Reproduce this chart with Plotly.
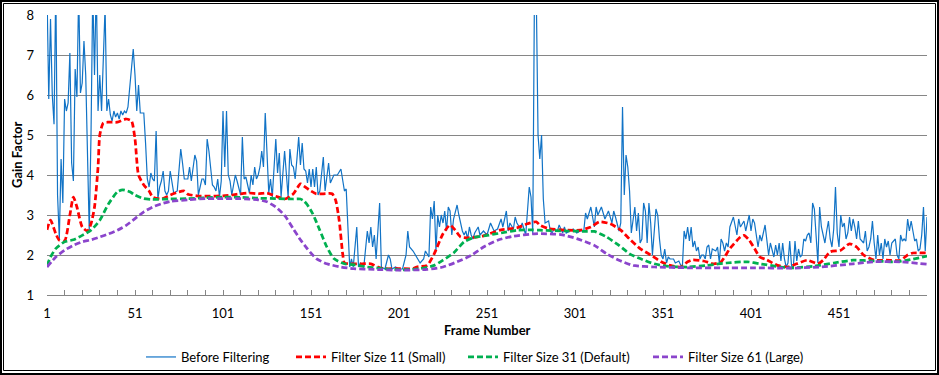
import plotly.graph_objects as go

# ---------------- data ----------------
blue_frames = [
    1,2,3,4,5,6,7,8,9,10,11,12,13,14,15,16,17,18,19,20,21,22,23,24,25,26,27,28,29,30,
    31,32,33,34,35,36,37,38,39,40,41,42,43,44,45,46,47,48,49,50,51,52,53,54,55,56,57,58,59,60,
    61,62,63,64,65,66,67,68,69,70,71,73,75,77,78,79,81,82,83,85,86,87,89,90,91,92,93,95,96,97,
    98,99,100,101,102,103,104,105,106,107,108,109,111,112,113,114,115,116,117,118,119,120,121,122,
    123,124,125,126,127,128,129,131,132,133,134,136,137,138,139,140,141,142,143,144,145,146,147,148,
    149,150,151,152,153,154,155,156,158,159,161,162,164,166,168,170,171,173,174,175,177,178,179,181,
    183,184,185,186,187,188,190,191,193,195,196,197,199,201,203,205,206,207,209,211,213,215,216,218,
    219,220,221,222,223,224,225,226,227,228,229,230,231,232,234,235,236,237,238,239,240,241,242,243,
    244,246,247,249,251,253,254,255,257,259,260,262,263,264,266,267,268,270,271,273,275,276,277,278,
    279,280,281,282,283,284,286,287,288,289,291,292,294,295,296,298,300,302,304,306,307,308,310,312,
    313,314,316,318,320,322,323,324,326,327,328,329,330,331,332,333,335,336,337,338,339,340,341,342,
    343,344,345,347,348,349,350,351,352,353,354,355,357,358,360,361,362,363,364,365,366,367,368,369,
    370,371,372,373,374,375,376,377,378,379,381,382,383,384,385,386,387,388,389,391,392,393,394,395,
    397,398,399,400,401,402,403,404,405,406,407,409,410,411,412,413,414,415,416,417,418,419,420,421,
    422,423,424,425,426,427,428,429,430,431,432,433,434,435,436,437,438,439,440,441,442,443,444,445,
    446,447,448,449,450,451,452,453,454,455,456,457,458,459,460,461,462,463,465,466,467,468,469,470,
    471,472,473,474,475,476,477,478,479,480,481,483,484,485,486,487,488,489,490,491,492,493,494,495,
    496,497,498,499,500,501,
]
blue_values = [
    8.6,5.9,7.9,6.0,5.27,8.8,3.5,2.4,4.4,3.3,5.9,5.6,5.8,7.05,4.3,3.85,6.65,5.95,8.6,6.05,6.3,7.35,6.5,4.3,2.6,5.0,8.6,6.5,8.8,5.6,
    6.5,5.6,6.9,8.2,5.6,5.9,5.5,5.35,5.6,5.45,5.55,5.4,5.6,5.5,5.6,5.55,5.7,6.2,6.6,7.15,6.5,5.6,6.25,5.55,5.55,5.55,4.8,3.9,3.7,4.05,
    3.9,3.85,5.1,3.4,3.7,3.85,4.1,3.6,3.5,3.6,4.1,3.55,3.6,4.65,4.3,3.9,3.9,4.2,3.85,4.5,4.35,3.5,3.9,3.9,3.75,4.9,4.6,3.75,3.7,3.6,
    3.9,3.45,3.85,5.6,4.2,5.6,4.0,3.85,3.5,3.8,4.0,3.85,3.5,4.95,3.9,3.95,3.7,3.55,4.0,3.75,4.2,3.9,4.0,4.2,
    4.6,4.2,5.55,4.4,3.55,3.9,3.45,4.9,4.05,4.55,3.45,4.6,4.0,3.45,4.65,4.25,4.2,3.9,4.4,4.95,4.25,4.8,4.15,4.1,
    3.8,4.15,3.7,4.15,3.7,4.2,3.5,3.6,4.45,3.6,4.3,3.8,4.0,4.0,4.15,3.6,3.65,1.7,1.9,1.7,2.7,1.7,1.8,1.7,
    2.6,2.3,2.7,2.2,2.5,1.9,3.3,1.7,1.65,2.0,1.9,1.65,1.7,1.65,1.65,2.0,2.6,2.2,2.1,1.95,1.8,1.9,2.1,1.95,
    3.2,2.9,3.35,2.1,3.0,2.7,3.0,2.8,3.1,2.6,3.2,3.1,2.5,2.9,3.25,3.0,2.8,2.6,2.5,2.6,2.4,2.7,2.5,2.4,
    2.55,2.7,2.5,2.6,2.5,2.8,2.7,2.6,2.65,2.9,2.7,3.1,2.6,2.8,2.65,2.95,2.8,2.65,2.8,2.5,3.7,3.45,2.55,8.8,
    8.5,5.0,4.4,5.0,3.4,2.8,2.85,2.6,2.55,2.65,2.6,2.75,2.55,2.7,2.55,2.6,2.65,2.55,2.6,2.6,3.05,2.9,3.2,2.7,
    3.2,3.0,3.2,2.9,3.1,2.8,3.1,2.95,2.6,2.8,5.7,3.5,4.5,4.2,3.6,2.55,3.2,2.6,3.05,2.3,2.4,3.3,3.1,2.3,
    3.3,2.8,2.0,3.15,3.0,2.4,2.0,1.9,2.15,1.8,1.95,1.9,1.9,1.8,1.85,1.75,1.7,2.6,2.4,2.7,2.35,2.7,2.2,2.35,
    2.1,2.2,1.9,2.0,2.0,1.9,2.2,2.25,1.9,2.15,2.1,2.2,1.8,2.4,2.3,2.1,2.3,2.2,2.7,2.95,2.7,2.5,2.9,2.7,
    2.85,2.6,2.8,3.0,2.6,2.9,2.8,2.55,2.2,2.5,2.35,2.75,2.3,2.0,2.3,2.1,1.95,2.25,2.0,2.3,1.85,2.3,1.9,1.7,
    1.8,2.35,1.75,1.65,2.35,1.85,2.15,1.95,2.0,2.4,2.35,2.5,2.55,2.3,3.3,3.15,2.4,1.8,3.2,2.7,2.5,2.3,2.6,2.85,
    2.4,2.2,2.65,3.7,2.55,2.2,3.0,2.7,2.8,2.4,2.55,2.95,2.6,2.9,2.7,2.4,2.85,2.4,2.3,2.6,2.1,2.2,2.4,2.85,
    2.3,1.9,2.5,2.0,2.3,1.9,2.4,2.2,2.35,2.0,2.3,2.4,2.0,1.9,2.5,2.35,2.4,2.35,2.9,2.6,2.85,2.55,2.35,2.4,
    2.1,2.15,2.5,3.2,2.1,2.95,
]

red_frames = [1,3,6,8,11,14,16,18,21,24,26,28,30,31,33,36,41,46,49,51,53,56,59,61,66,71,76,79,81,86,
              91,96,101,106,111,116,121,126,131,136,141,145,147,151,154,158,163,165,167,169,170,173,180,185,189,192,
              202,209,211,217,221,226,230,233,236,240,249,259,268,274,279,281,286,297,304,310,315,321,327,332,
              338,344,350,355,361,365,368,374,380,384,389,395,397,400,403,406,410,416,422,427,433,439,442,446,
              452,457,461,465,471,478,486,490,493,501]
red_values = [2.63,2.87,2.53,2.37,2.35,3.0,3.45,3.2,2.7,2.6,2.78,3.2,4.2,5.0,5.3,5.32,5.32,5.4,5.35,4.9,4.0,3.75,3.6,3.45,3.4,3.5,3.58,3.6,3.52,3.48,
              3.47,3.47,3.48,3.5,3.53,3.55,3.53,3.55,3.47,3.4,3.53,3.78,3.72,3.6,3.53,3.53,3.53,3.37,2.87,2.03,1.8,1.78,1.78,1.78,1.7,1.66,
              1.66,1.66,1.7,1.74,2.03,2.53,2.75,2.62,2.45,2.43,2.48,2.63,2.68,2.78,2.83,2.75,2.66,2.62,2.62,2.7,2.83,2.78,2.62,2.4,
              2.16,2.0,1.83,1.74,1.7,1.83,1.88,1.85,1.78,1.83,2.16,2.45,2.49,2.37,2.16,1.95,1.88,1.74,1.7,1.78,1.87,1.78,1.87,2.08,
              2.12,2.28,2.2,2.0,1.87,1.87,1.87,2.0,2.05,2.05]

green_frames = [1,3,6,11,16,21,26,31,36,41,44,48,51,56,61,71,81,91,101,111,121,131,141,145,147,149,152,156,160,164,
                170,175,183,192,202,213,221,226,232,238,243,251,259,268,276,281,297,308,312,319,326,332,338,346,
                353,365,376,387,399,406,418,425,437,448,459,471,482,490,501]
green_values = [1.74,1.95,2.16,2.33,2.38,2.49,2.62,2.87,3.28,3.58,3.63,3.58,3.5,3.41,3.39,3.4,3.41,3.43,3.45,3.44,3.42,3.41,3.4,3.4,3.35,3.25,3.03,2.62,2.2,1.91,
                1.78,1.76,1.7,1.66,1.63,1.66,1.74,1.87,2.05,2.33,2.43,2.49,2.55,2.62,2.63,2.62,2.6,2.59,2.59,2.45,2.24,2.03,1.91,1.78,
                1.72,1.7,1.74,1.8,1.83,1.78,1.7,1.68,1.72,1.8,1.87,1.85,1.83,1.87,1.97]

purple_frames = [1,6,11,16,21,26,31,36,41,46,51,56,61,66,71,81,91,101,111,121,126,131,136,141,145,149,154,160,168,175,
                 187,202,217,226,234,242,249,257,266,278,285,293,302,312,319,326,334,346,365,384,403,422,440,459,471,486,501]
purple_values = [1.7,1.95,2.12,2.24,2.33,2.38,2.45,2.53,2.62,2.74,2.91,3.08,3.2,3.28,3.34,3.38,3.41,3.41,3.41,3.38,3.33,3.2,2.99,2.65,2.38,2.15,1.91,1.78,1.7,1.66,
                 1.64,1.62,1.64,1.7,1.83,1.99,2.2,2.37,2.47,2.53,2.53,2.51,2.41,2.24,2.03,1.87,1.74,1.7,1.68,1.68,1.68,1.67,1.7,1.78,1.83,1.83,1.77]

series_names = ["Before Filtering", "Filter Size 11 (Small)", "Filter Size 31 (Default)", "Filter Size 61 (Large)"]
x_tickvals = [1, 51, 101, 151, 201, 251, 301, 351, 401, 451]
y_tickvals = [1, 2, 3, 4, 5, 6, 7, 8]

# ---------------- layout constants ----------------
W, H = 939, 375
L, R, T, B = 47, 12, 15, 80
PW, PH = W - L - R, H - T - B
FONT = "Lato, Carlito, Calibri, 'Liberation Sans', sans-serif"
GRID = "#868686"
LEGEND_LEFT_PX = [141, 291, 463, 648]
LEGEND_MID_PX = 357


def px_x(p):
    return (p - L) / PW


def px_y(p):
    return (H - B - p) / PH


fig = go.Figure()
dash = "6px,3px"
fig.add_trace(go.Scatter(x=blue_frames, y=blue_values, mode="lines", name=series_names[0],
                         legend="legend", line=dict(color="#1173C6", width=1.2)))
fig.add_trace(go.Scatter(x=red_frames, y=red_values, mode="lines", name=series_names[1],
                         legend="legend2",
                         line=dict(color="#FF0000", width=2.75, dash=dash, shape="spline", smoothing=0.6)))
fig.add_trace(go.Scatter(x=green_frames, y=green_values, mode="lines", name=series_names[2],
                         legend="legend3",
                         line=dict(color="#00B050", width=2.75, dash=dash, shape="spline", smoothing=0.6)))
fig.add_trace(go.Scatter(x=purple_frames, y=purple_values, mode="lines", name=series_names[3],
                         legend="legend4",
                         line=dict(color="#8B45CC", width=2.75, dash=dash, shape="spline", smoothing=0.6)))

shapes = [
    dict(type="rect", xref="paper", yref="paper", x0=px_x(1), x1=px_x(938), y0=px_y(374), y1=px_y(1),
         line=dict(color="black", width=2), fillcolor="rgba(0,0,0,0)", layer="above"),
    dict(type="rect", xref="paper", yref="paper", x0=px_x(3.5), x1=px_x(935.5), y0=px_y(370.5), y1=px_y(3.5),
         line=dict(color="black", width=1), fillcolor="rgba(0,0,0,0)", layer="above"),
]


def legend_at(px_left):
    return dict(orientation="h", x=px_x(px_left), xanchor="left", y=px_y(LEGEND_MID_PX), yanchor="middle",
                font=dict(family=FONT, size=13), itemwidth=30, bgcolor="rgba(0,0,0,0)",
                borderwidth=0)


fig.update_layout(
    width=W, height=H,
    margin=dict(l=L, r=R, t=T, b=B, autoexpand=False),
    paper_bgcolor="white", plot_bgcolor="white",
    font=dict(family=FONT, size=13, color="#000000"),
    showlegend=True,
    legend=legend_at(LEGEND_LEFT_PX[0]),
    legend2=legend_at(LEGEND_LEFT_PX[1]),
    legend3=legend_at(LEGEND_LEFT_PX[2]),
    legend4=legend_at(LEGEND_LEFT_PX[3]),
    shapes=shapes,
    annotations=[
        dict(text="<b>Frame Number</b>", xref="paper", yref="paper", x=px_x(487), y=px_y(330),
             xanchor="center", yanchor="middle", showarrow=False, font=dict(family=FONT, size=13)),
        dict(text="<b>Gain Factor</b>", xref="paper", yref="paper", x=px_x(17), y=0.5,
             xanchor="center", yanchor="middle", textangle=-90, showarrow=False,
             font=dict(family=FONT, size=13)),
    ],
)

fig.update_xaxes(
    range=[1, 501], tickmode="array", tickvals=x_tickvals, ticktext=[str(v) for v in x_tickvals],
    showgrid=False, zeroline=False,
    showline=True, linecolor=GRID, linewidth=1,
    ticks="inside", ticklen=5, tickcolor=GRID,
    minor=dict(tickmode="linear", tick0=1, dtick=10, ticks="inside", ticklen=5, tickcolor=GRID, showgrid=False),
    tickfont=dict(family=FONT, size=13), ticklabelstandoff=6,
)
fig.update_yaxes(
    range=[1, 8], tickmode="array", tickvals=y_tickvals, ticktext=[str(v) for v in y_tickvals],
    showgrid=True, gridcolor=GRID, gridwidth=1, zeroline=False, showline=False,
    ticks="", tickfont=dict(family=FONT, size=13), ticklabelstandoff=12,
)

fig.write_html("out.html", config={"displayModeBar": False},
               post_script="document.body.style.margin='0';document.body.style.overflow='hidden';")
